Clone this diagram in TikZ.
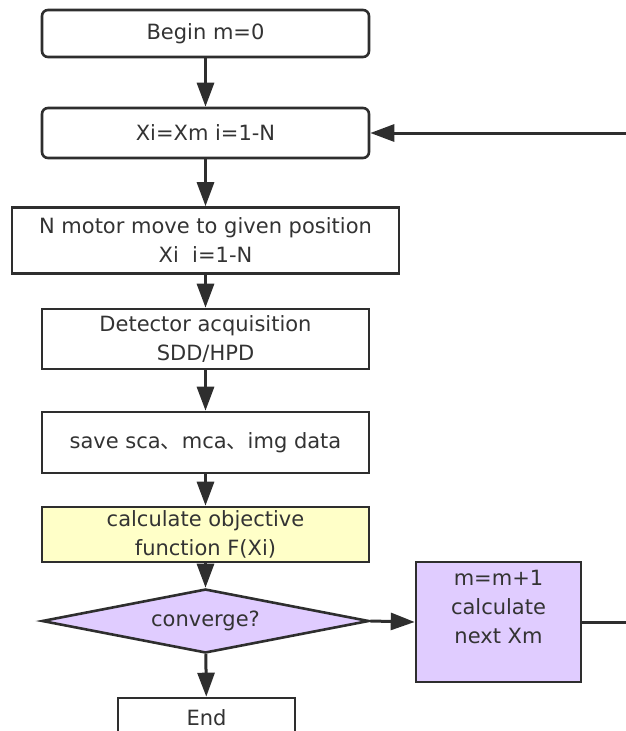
\documentclass[tikz,border=0pt]{standalone}
\usepackage{fontspec}
\setmainfont{DejaVu Sans}
\newfontfamily\cjk{Noto Sans CJK SC}
\usetikzlibrary{arrows.meta,shapes.geometric}
\definecolor{ink}{HTML}{333333}
\definecolor{lineclr}{HTML}{2E2E2E}
\definecolor{yellowfill}{HTML}{FFFFC8}
\definecolor{purplefill}{HTML}{E0CCFF}
\tikzset{
  base/.style={draw=lineclr, line width=2.6pt, inner sep=0pt, align=center,
    text=ink, font=\fontsize{21}{29}\selectfont},
  roundbox/.style={base, rounded corners=6pt, minimum width=327pt, fill=white},
  plainbox/.style={base, minimum width=327pt, fill=white},
  yellowbox/.style={base, minimum width=327pt, fill=yellowfill},
  decision/.style={base, diamond, shape aspect=5.1, minimum width=327pt, minimum height=64pt, fill=purplefill},
  purplebox/.style={base, minimum width=165pt, minimum height=120pt, fill=purplefill},
  txt/.style={align=center, inner sep=0pt, text=ink, font=\fontsize{21}{29}\selectfont},
  conn/.style={draw=lineclr, line width=3pt, -{Triangle[length=24pt,width=17pt]}},
  connplain/.style={draw=lineclr, line width=3pt}
}
\begin{document}
\begin{tikzpicture}[x=1pt,y=-1pt]
\useasboundingbox (0,0) rectangle (626,731);
\clip (0,0) rectangle (626,731);
\node[roundbox, minimum height=47pt] (b1) at (205.5,33.5) {Begin m=0};
\node[roundbox, minimum height=50pt] (b2) at (205.5,133) {Xi=Xm i=1-N};
\node[plainbox, minimum width=387pt, minimum height=66pt] (b3) at (205.5,240.5) {N motor move to given position\\Xi\ \ i=1-N};
\node[plainbox, minimum height=60pt] (b4) at (205.5,339) {Detector acquisition\\SDD/HPD};
\node[plainbox, minimum height=61pt] (b5) at (205.5,442.5) {save sca{\cjk 、}mca{\cjk 、}img data};
\node[yellowbox, minimum height=55pt] (b6) at (205.5,534.5) {calculate objective\\function F(Xi)};
\node[decision] (d) at (205.5,621) {converge?};
\node[purplebox] (b7) at (498.5,622) {};
\node[txt] (b7t) at ([yshift=15pt]b7.center) {m=m+1\\calculate\\next Xm};
\node[plainbox, minimum width=177pt, minimum height=40pt] (e) at (206.5,718) {End};
\coordinate (loopR) at (650,622);
\draw[conn] (b1) -- (b2);
\draw[conn] (b2) -- (b3);
\draw[conn] (b3) -- (b4);
\draw[conn] (b4) -- (b5);
\draw[conn] (b5) -- (b6);
\draw[conn] (b6) -- (d);
\draw[conn] (d) -- (e);
\draw[conn] (d.east) -- (b7.west);
\draw[conn] (b7.east) -- (loopR) |- (b2.east);
\end{tikzpicture}
\end{document}
